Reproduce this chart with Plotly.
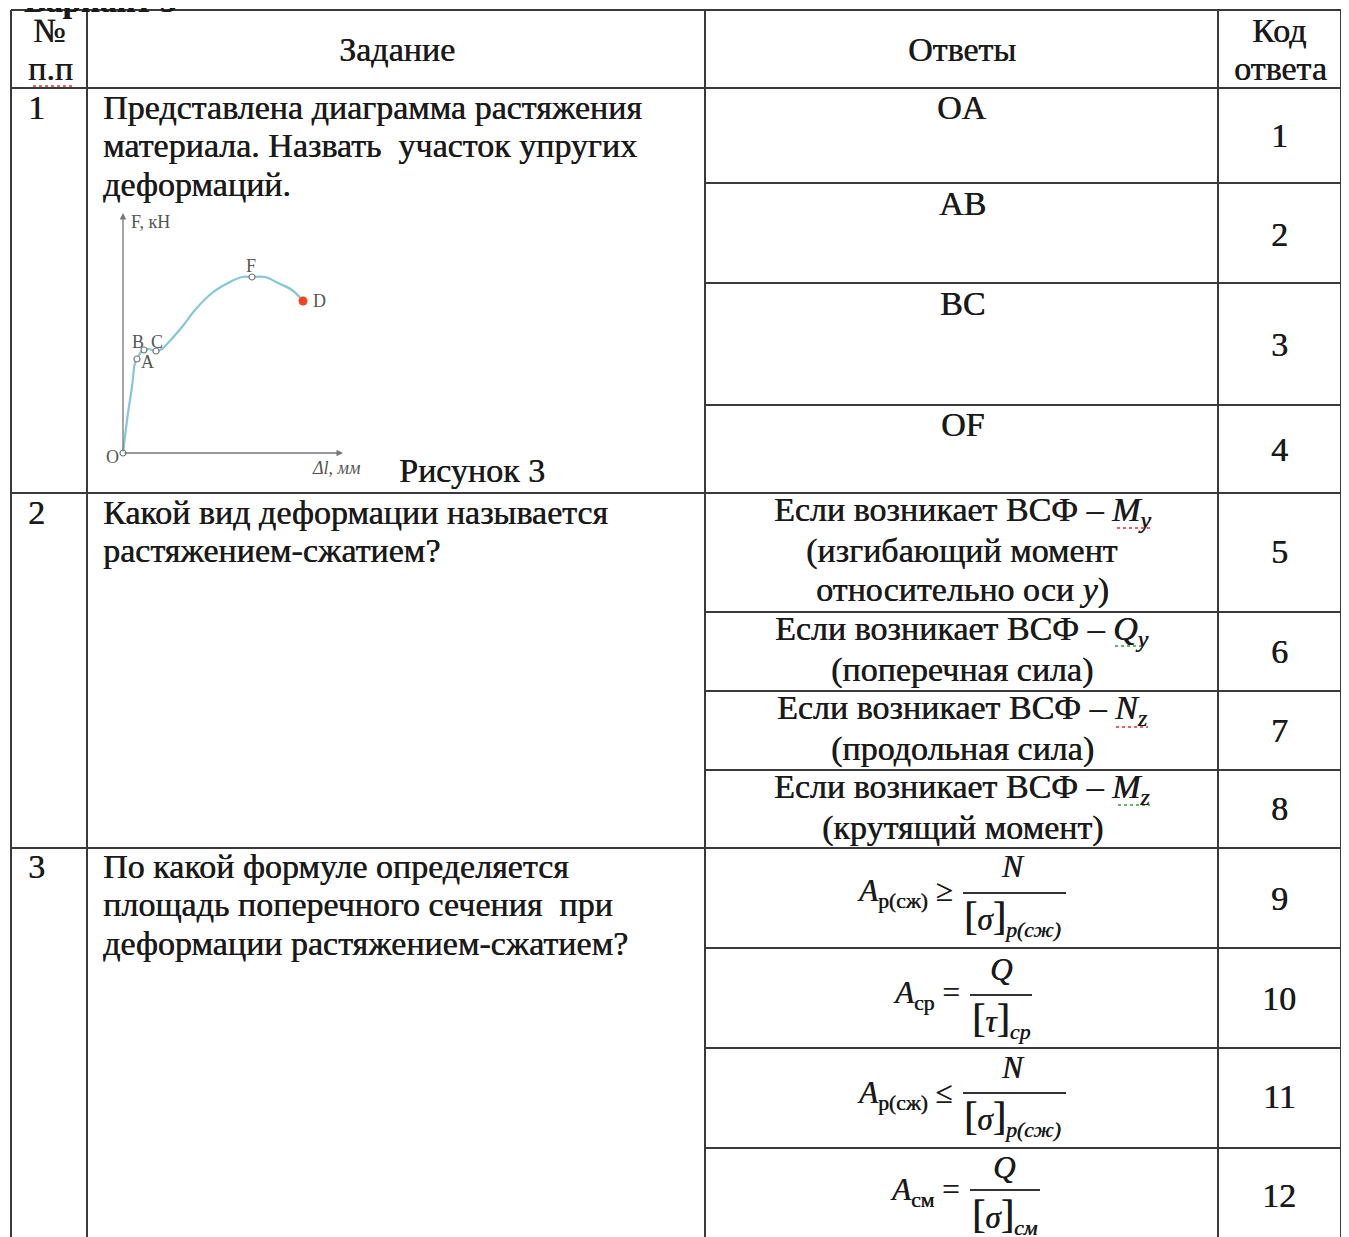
import plotly.graph_objects as go

W, H = 1349, 1237
OFF = 8  # page body margin
FW, FH = W - OFF, H - OFF
SERIF = "Liberation Serif"
INK = "#1a1a1a"
GRID = "#3a3a3a"
HEAVY = "0.5px 0 0 #1a1a1a"  # mimic the heavy look of the scanned text

# ---- data (Δl vs F, arbitrary units)
dl = [0, 0.5, 0.9, 1.2, 1.5, 1.9, 2.5, 3.3, 3.9, 4.5, 5.9, 7.2, 8.9, 10.5, 11.9, 12.9, 14.2, 15.5, 16.9, 18.0]
force = [0, 4.0, 6.6, 9.0, 9.6, 10.2, 10.4, 10.2, 10.4, 11.0, 12.6, 14.3, 16.0, 17.0, 17.6, 17.6, 17.6, 17.0, 16.3, 15.2]

pt_names = ["O", "A", "B", "C", "F", "D"]
pt_dl = [0, 1.4, 2.1, 3.3, 12.9, 18.0]
pt_force = [0, 9.4, 10.3, 10.2, 17.6, 15.2]

# ---- table content
headers = ["№", "п.п", "Задание", "Ответы", "Код", "ответа"]
q_nums = ["1", "2", "3"]
q_texts = [
    ["Представлена диаграмма растяжения", "материала. Назвать  участок упругих", "деформаций."],
    ["Какой вид деформации называется", "растяжением-сжатием?"],
    ["По какой формуле определяется", "площадь поперечного сечения  при", "деформации растяжением-сжатием?"],
]
answers_q1 = ["OA", "AB", "BC", "OF"]
answers_q2 = [
    ["Если возникает ВСФ – <i>M</i><sub><i>y</i></sub>", "(изгибающий момент", "относительно оси <i>y</i>)"],
    ["Если возникает ВСФ – <i>Q</i><sub><i>y</i></sub>", "(поперечная сила)"],
    ["Если возникает ВСФ – <i>N</i><sub><i>z</i></sub>", "(продольная сила)"],
    ["Если возникает ВСФ – <i>M</i><sub><i>z</i></sub>", "(крутящий момент)"],
]
codes = [str(i) for i in range(1, 13)]


def px(x):
    return (x - OFF) / FW


def py(y):
    return 1 - (y - OFF) / FH


fig = go.Figure()

fig.add_trace(go.Scatter(
    x=dl, y=force, mode="lines", line=dict(color="#86c7d6", width=2.2, shape="spline"),
    cliponaxis=False, hoverinfo="skip",
))
fig.add_trace(go.Scatter(
    x=pt_dl[:-1], y=pt_force[:-1], mode="markers", cliponaxis=False,
    marker=dict(size=6, color="white", line=dict(color="#777", width=1.2)),
    hoverinfo="skip",
))
fig.add_trace(go.Scatter(
    x=pt_dl[-1:], y=pt_force[-1:], mode="markers", cliponaxis=False,
    marker=dict(size=9, color="#ee4422"), hoverinfo="skip",
))

shapes = []


def seg(x0, y0, x1, y1, color=GRID, width=2, dash="solid"):
    shapes.append(dict(type="line", xref="paper", yref="paper", x0=px(x0), x1=px(x1),
                       y0=py(y0), y1=py(y1), line=dict(color=color, width=width, dash=dash)))


for y in [10, 88, 493, 848]:
    seg(11, y, 1341, y)
for y in [183, 283, 405, 612, 691, 770, 948, 1048, 1148]:
    seg(705, y, 1341, y)
for x in [11, 87, 705, 1218, 1341]:
    seg(x, 10, x, 1245)

# fraction bars
for (x0, x1, y) in [(963, 1066, 893), (970, 1032, 995), (963, 1066, 1093), (970, 1040, 1190)]:
    seg(x0, y, x1, y, color="#333")

# spell-check squiggles
for (x0, x1, y, c) in [(33, 72, 86, "#e03030"), (1117, 1150, 528, "#e03030"),
                       (1115, 1145, 646, "#30a030"), (1116, 1148, 727, "#e03030"),
                       (1118, 1150, 805, "#30a030")]:
    seg(x0, y, x1, y, color=c, width=1.5, dash="dot")

ann = []


def txt(x, y, s, size=34, anchor="left", color=INK):
    ann.append(dict(x=px(x), y=py(y), xref="paper", yref="paper", text=s, showarrow=False,
                    xanchor=anchor, yanchor="middle",
                    font=dict(family=SERIF, size=size, color=color, shadow=HEAVY)))


# cut-off title at the very top
txt(22, 1, "<b>Вариант 3</b>", size=33)

# headers
txt(49, 31, headers[0], anchor="center")
txt(50, 69, headers[1], anchor="center")
txt(397, 50, headers[2], anchor="center")
txt(962, 50, headers[3], anchor="center")
txt(1279, 31, headers[4], anchor="center")
txt(1280, 69, headers[5], anchor="center")

# question column
q_top = [107, 512, 866]
for n, lines, y0 in zip(q_nums, q_texts, q_top):
    txt(36, y0, n, anchor="center")
    for i, line in enumerate(lines):
        txt(101, y0 + i * 38.6, line)
txt(397, 471, "Рисунок 3")

# answers to question 1
for a, y in zip(answers_q1, [107, 203, 303, 425]):
    txt(962, y, a, anchor="center")

# answers to question 2
for lines, y0 in zip(answers_q2, [512, 631, 710, 789]):
    for i, line in enumerate(lines):
        txt(962, y0 + i * 38.8, line, anchor="center")

# answers to question 3: formulas
FS = 31
BIG = "<span style='font-size:40px'>%s</span>"
SIG = BIG % "[" + "<i>σ</i>" + BIG % "]"
TAU = BIG % "[" + "<i>τ</i>" + BIG % "]"

txt(955, 893, "<i>A</i><sub>р(сж)</sub> ≥", size=FS, anchor="right")
txt(1013, 866, "<i>N</i>", size=FS, anchor="center")
txt(962, 918, SIG + "<sub><i>p(сж)</i></sub>", size=FS, anchor="left")

txt(962, 995, "<i>A</i><sub>ср</sub> =", size=FS, anchor="right")
txt(1001, 969, "<i>Q</i>", size=FS, anchor="center")
txt(970, 1020, TAU + "<sub><i>ср</i></sub>", size=FS, anchor="left")

txt(955, 1095, "<i>A</i><sub>р(сж)</sub> ≤", size=FS, anchor="right")
txt(1013, 1067, "<i>N</i>", size=FS, anchor="center")
txt(962, 1118, SIG + "<sub><i>p(сж)</i></sub>", size=FS, anchor="left")

txt(962, 1192, "<i>A</i><sub>см</sub> =", size=FS, anchor="right")
txt(1004, 1167, "<i>Q</i>", size=FS, anchor="center")
txt(970, 1216, SIG + "<sub><i>см</i></sub>", size=FS, anchor="left")

# answer codes
for c, y in zip(codes, [136, 234, 345, 449, 551, 651, 730, 808, 898, 998, 1096, 1195]):
    txt(1279, y, c, anchor="center")

# diagram axes with arrows and labels (data coordinates)
for (x, y) in [(22, 0), (0, 24)]:
    ann.append(dict(x=x, y=y, ax=0, ay=0, xref="x", yref="y", axref="x", ayref="y", text="",
                    showarrow=True, arrowhead=2, arrowsize=1, arrowwidth=1.3, arrowcolor="#777"))


def lab(x, y, s, size=18, anchor="center"):
    ann.append(dict(x=x, y=y, xref="x", yref="y", text=s, showarrow=False, xanchor=anchor,
                    yanchor="middle", font=dict(family=SERIF, size=size, color="#555")))


lab(0.6, 23.1, "F, кН", anchor="left")
lab(21.3, -1.5, "<i>Δl, мм</i>")
lab(-1.1, -0.4, "O")
lab(2.4, 9.1, "A")
lab(1.5, 11.1, "B")
lab(3.4, 11.1, "C")
lab(12.8, 18.7, "F")
lab(19.6, 15.2, "D")

fig.update_layout(
    width=FW, height=FH, margin=dict(l=0, r=0, t=0, b=0),
    paper_bgcolor="white", plot_bgcolor="rgba(0,0,0,0)",
    showlegend=False, shapes=shapes, annotations=ann,
    xaxis=dict(domain=[px(103), px(353)], range=[-2, 23], visible=False, fixedrange=True),
    yaxis=dict(domain=[py(483), py(203)], range=[-3, 25], visible=False, fixedrange=True),
)

fig.write_html("out.html")
